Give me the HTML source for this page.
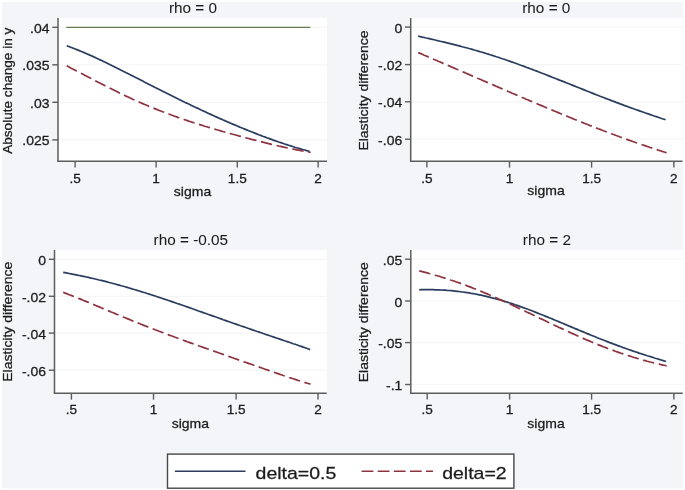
<!DOCTYPE html>
<html><head><meta charset="utf-8"><style>
html,body{margin:0;padding:0;background:#fff;}
#c{position:relative;will-change:transform;width:685px;height:490px;overflow:hidden;background:#fff;}
svg{position:absolute;left:0;top:0;}
text{font-family:"Liberation Sans",sans-serif;fill:#1c1c1c;stroke:#1c1c1c;stroke-width:0.3px;}
</style></head><body><div id="c">
<svg width="685" height="490" viewBox="0 0 685 490">
<rect x="2" y="2" width="681" height="486.3" fill="#f4f5f9"/>

<rect x="58" y="18" width="269.0" height="143.0" fill="#fff"/>
<line x1="58" x2="327" y1="27.3" y2="27.3" stroke="#f5f5f6" stroke-width="1.2"/>
<line x1="58" x2="327" y1="64.8" y2="64.8" stroke="#f5f5f6" stroke-width="1.2"/>
<line x1="58" x2="327" y1="102.3" y2="102.3" stroke="#f5f5f6" stroke-width="1.2"/>
<line x1="58" x2="327" y1="139.9" y2="139.9" stroke="#f5f5f6" stroke-width="1.2"/>
<line x1="66.3" x2="310.4" y1="27.4" y2="27.4" stroke="#677c50" stroke-width="1.4"/>
<polyline points="66.7,45.8 68.7,46.5 70.7,47.2 72.7,48.0 74.7,48.8 76.7,49.6 78.7,50.4 80.7,51.2 82.7,52.0 84.7,52.9 86.7,53.7 88.7,54.6 90.7,55.5 92.7,56.4 94.7,57.3 96.7,58.3 98.7,59.2 100.7,60.1 102.7,61.1 104.7,62.0 106.7,63.0 108.7,64.0 110.7,65.0 112.7,66.0 114.7,66.9 116.7,67.9 118.7,68.9 120.7,70.0 122.7,71.0 124.7,72.0 126.7,73.0 128.7,74.0 130.7,75.0 132.7,76.0 134.7,77.1 136.7,78.1 138.7,79.1 140.7,80.1 142.7,81.1 144.7,82.2 146.7,83.2 148.7,84.2 150.7,85.2 152.7,86.2 154.7,87.3 156.7,88.3 158.7,89.3 160.7,90.3 162.7,91.3 164.7,92.3 166.7,93.3 168.7,94.3 170.7,95.3 172.7,96.3 174.7,97.3 176.7,98.3 178.7,99.2 180.7,100.2 182.7,101.2 184.7,102.2 186.7,103.1 188.7,104.1 190.7,105.1 192.7,106.0 194.7,107.0 196.7,107.9 198.7,108.8 200.7,109.8 202.7,110.7 204.7,111.6 206.7,112.6 208.7,113.5 210.7,114.4 212.7,115.3 214.7,116.2 216.7,117.1 218.7,118.0 220.7,118.9 222.7,119.8 224.7,120.6 226.7,121.5 228.7,122.4 230.7,123.2 232.7,124.1 234.7,124.9 236.7,125.8 238.7,126.6 240.7,127.5 242.7,128.3 244.7,129.1 246.7,129.9 248.7,130.7 250.7,131.5 252.7,132.3 254.7,133.1 256.7,133.9 258.7,134.7 260.7,135.4 262.7,136.2 264.7,136.9 266.7,137.7 268.7,138.4 270.7,139.1 272.7,139.9 274.7,140.6 276.7,141.3 278.7,142.0 280.7,142.6 282.7,143.3 284.7,144.0 286.7,144.6 288.7,145.3 290.7,145.9 292.7,146.5 294.7,147.2 296.7,147.8 298.7,148.3 300.7,148.9 302.7,149.5 304.7,150.0 306.7,150.6 308.7,151.1 309.6,151.3" fill="none" stroke="#2a3d5e" stroke-width="1.7" stroke-linejoin="round"/>
<polyline points="66.7,65.8 68.7,66.8 70.7,67.9 72.7,68.9 74.7,69.9 76.7,71.0 78.7,72.0 80.7,73.1 82.7,74.1 84.7,75.2 86.7,76.2 88.7,77.3 90.7,78.3 92.7,79.4 94.7,80.4 96.7,81.4 98.7,82.5 100.7,83.5 102.7,84.5 104.7,85.6 106.7,86.6 108.7,87.6 110.7,88.6 112.7,89.6 114.7,90.6 116.7,91.6 118.7,92.6 120.7,93.5 122.7,94.5 124.7,95.4 126.7,96.4 128.7,97.3 130.7,98.2 132.7,99.2 134.7,100.1 136.7,101.0 138.7,101.9 140.7,102.7 142.7,103.6 144.7,104.5 146.7,105.3 148.7,106.2 150.7,107.0 152.7,107.8 154.7,108.6 156.7,109.4 158.7,110.2 160.7,111.0 162.7,111.8 164.7,112.5 166.7,113.3 168.7,114.0 170.7,114.8 172.7,115.5 174.7,116.2 176.7,116.9 178.7,117.7 180.7,118.4 182.7,119.0 184.7,119.7 186.7,120.4 188.7,121.1 190.7,121.7 192.7,122.4 194.7,123.0 196.7,123.7 198.7,124.3 200.7,124.9 202.7,125.5 204.7,126.2 206.7,126.8 208.7,127.4 210.7,128.0 212.7,128.6 214.7,129.1 216.7,129.7 218.7,130.3 220.7,130.9 222.7,131.5 224.7,132.0 226.7,132.6 228.7,133.1 230.7,133.7 232.7,134.3 234.7,134.8 236.7,135.3 238.7,135.9 240.7,136.4 242.7,137.0 244.7,137.5 246.7,138.0 248.7,138.5 250.7,139.1 252.7,139.6 254.7,140.1 256.7,140.6 258.7,141.1 260.7,141.6 262.7,142.1 264.7,142.6 266.7,143.1 268.7,143.6 270.7,144.1 272.7,144.6 274.7,145.0 276.7,145.5 278.7,146.0 280.7,146.4 282.7,146.9 284.7,147.3 286.7,147.8 288.7,148.2 290.7,148.6 292.7,149.0 294.7,149.4 296.7,149.8 298.7,150.2 300.7,150.6 302.7,151.0 304.7,151.3 306.7,151.6 308.7,152.0 310.6,152.3" fill="none" stroke="#8e3340" stroke-width="1.7" stroke-dasharray="11.5 4.6" stroke-linejoin="round"/>
<line x1="58" x2="58" y1="18" y2="161.7" stroke="#5c5c5c" stroke-width="1.5"/>
<line x1="57.3" x2="327" y1="161.3" y2="161.3" stroke="#5c5c5c" stroke-width="1.5"/>
<line x1="52.3" x2="58" y1="27.3" y2="27.3" stroke="#5c5c5c" stroke-width="1.4"/>
<text transform="translate(49.50,32.80) scale(1,0.95)" font-size="14" text-anchor="end">.04</text>
<line x1="52.3" x2="58" y1="64.8" y2="64.8" stroke="#5c5c5c" stroke-width="1.4"/>
<text transform="translate(49.50,70.30) scale(1,0.95)" font-size="14" text-anchor="end">.035</text>
<line x1="52.3" x2="58" y1="102.3" y2="102.3" stroke="#5c5c5c" stroke-width="1.4"/>
<text transform="translate(49.50,107.80) scale(1,0.95)" font-size="14" text-anchor="end">.03</text>
<line x1="52.3" x2="58" y1="139.9" y2="139.9" stroke="#5c5c5c" stroke-width="1.4"/>
<text transform="translate(49.50,145.40) scale(1,0.95)" font-size="14" text-anchor="end">.025</text>
<line x1="75.1" x2="75.1" y1="161" y2="167.6" stroke="#5c5c5c" stroke-width="1.4"/>
<text transform="translate(75.10,182.50) scale(1,0.93)" font-size="13.6" text-anchor="middle">.5</text>
<line x1="156.1" x2="156.1" y1="161" y2="167.6" stroke="#5c5c5c" stroke-width="1.4"/>
<text transform="translate(156.10,182.50) scale(1,0.93)" font-size="13.6" text-anchor="middle">1</text>
<line x1="237.3" x2="237.3" y1="161" y2="167.6" stroke="#5c5c5c" stroke-width="1.4"/>
<text transform="translate(237.30,182.50) scale(1,0.93)" font-size="13.6" text-anchor="middle">1.5</text>
<line x1="318.1" x2="318.1" y1="161" y2="167.6" stroke="#5c5c5c" stroke-width="1.4"/>
<text transform="translate(318.10,182.50) scale(1,0.93)" font-size="13.6" text-anchor="middle">2</text>
<text transform="translate(192.50,195.50) scale(1,0.88)" font-size="14" text-anchor="middle">sigma</text>
<text transform="translate(193.00,13.30)" font-size="15.3" text-anchor="middle" style="stroke-width:0.05px">rho = 0</text>
<text transform="translate(12.20,153.80) rotate(-90) scale(1,0.9)" font-size="13.6" text-anchor="start">Absolute change in y</text>
<rect x="410.7" y="18" width="271.8" height="143.0" fill="#fff"/>
<line x1="410.7" x2="682.5" y1="27.1" y2="27.1" stroke="#f5f5f6" stroke-width="1.2"/>
<line x1="410.7" x2="682.5" y1="64.6" y2="64.6" stroke="#f5f5f6" stroke-width="1.2"/>
<line x1="410.7" x2="682.5" y1="101.8" y2="101.8" stroke="#f5f5f6" stroke-width="1.2"/>
<line x1="410.7" x2="682.5" y1="139.2" y2="139.2" stroke="#f5f5f6" stroke-width="1.2"/>
<polyline points="418.2,36.2 420.2,36.6 422.2,37.1 424.2,37.5 426.2,38.0 428.2,38.4 430.2,38.9 432.2,39.3 434.2,39.8 436.2,40.3 438.2,40.7 440.2,41.2 442.2,41.7 444.2,42.1 446.2,42.6 448.2,43.1 450.2,43.6 452.2,44.1 454.2,44.6 456.2,45.1 458.2,45.6 460.2,46.1 462.2,46.7 464.2,47.2 466.2,47.7 468.2,48.3 470.2,48.8 472.2,49.4 474.2,50.0 476.2,50.5 478.2,51.1 480.2,51.7 482.2,52.3 484.2,52.9 486.2,53.5 488.2,54.1 490.2,54.8 492.2,55.4 494.2,56.0 496.2,56.7 498.2,57.3 500.2,58.0 502.2,58.7 504.2,59.3 506.2,60.0 508.2,60.7 510.2,61.4 512.2,62.1 514.2,62.8 516.2,63.5 518.2,64.2 520.2,65.0 522.2,65.7 524.2,66.4 526.2,67.2 528.2,67.9 530.2,68.7 532.2,69.4 534.2,70.2 536.2,70.9 538.2,71.7 540.2,72.5 542.2,73.3 544.2,74.0 546.2,74.8 548.2,75.6 550.2,76.4 552.2,77.2 554.2,78.0 556.2,78.8 558.2,79.6 560.2,80.4 562.2,81.1 564.2,81.9 566.2,82.7 568.2,83.5 570.2,84.3 572.2,85.1 574.2,85.9 576.2,86.7 578.2,87.5 580.2,88.3 582.2,89.1 584.2,89.9 586.2,90.7 588.2,91.5 590.2,92.3 592.2,93.1 594.2,93.9 596.2,94.7 598.2,95.5 600.2,96.3 602.2,97.0 604.2,97.8 606.2,98.6 608.2,99.3 610.2,100.1 612.2,100.9 614.2,101.6 616.2,102.4 618.2,103.1 620.2,103.9 622.2,104.6 624.2,105.4 626.2,106.1 628.2,106.8 630.2,107.6 632.2,108.3 634.2,109.0 636.2,109.7 638.2,110.4 640.2,111.1 642.2,111.8 644.2,112.5 646.2,113.2 648.2,113.9 650.2,114.6 652.2,115.3 654.2,116.0 656.2,116.6 658.2,117.3 660.2,118.0 662.2,118.7 664.2,119.3 665.6,119.8" fill="none" stroke="#2a3d5e" stroke-width="1.7" stroke-linejoin="round"/>
<polyline points="418.2,52.6 420.2,53.4 422.2,54.3 424.2,55.2 426.2,56.0 428.2,56.9 430.2,57.7 432.2,58.6 434.2,59.5 436.2,60.3 438.2,61.2 440.2,62.0 442.2,62.9 444.2,63.8 446.2,64.6 448.2,65.5 450.2,66.4 452.2,67.2 454.2,68.1 456.2,69.0 458.2,69.8 460.2,70.7 462.2,71.5 464.2,72.4 466.2,73.3 468.2,74.1 470.2,75.0 472.2,75.9 474.2,76.7 476.2,77.6 478.2,78.5 480.2,79.3 482.2,80.2 484.2,81.1 486.2,81.9 488.2,82.8 490.2,83.7 492.2,84.5 494.2,85.4 496.2,86.3 498.2,87.1 500.2,88.0 502.2,88.9 504.2,89.7 506.2,90.6 508.2,91.5 510.2,92.3 512.2,93.2 514.2,94.0 516.2,94.9 518.2,95.7 520.2,96.6 522.2,97.5 524.2,98.3 526.2,99.2 528.2,100.0 530.2,100.9 532.2,101.7 534.2,102.6 536.2,103.4 538.2,104.3 540.2,105.1 542.2,105.9 544.2,106.8 546.2,107.6 548.2,108.5 550.2,109.3 552.2,110.1 554.2,111.0 556.2,111.8 558.2,112.6 560.2,113.5 562.2,114.3 564.2,115.1 566.2,115.9 568.2,116.7 570.2,117.5 572.2,118.4 574.2,119.2 576.2,120.0 578.2,120.8 580.2,121.6 582.2,122.4 584.2,123.2 586.2,124.0 588.2,124.8 590.2,125.6 592.2,126.3 594.2,127.1 596.2,127.9 598.2,128.7 600.2,129.4 602.2,130.2 604.2,131.0 606.2,131.7 608.2,132.5 610.2,133.3 612.2,134.0 614.2,134.7 616.2,135.5 618.2,136.2 620.2,137.0 622.2,137.7 624.2,138.4 626.2,139.1 628.2,139.9 630.2,140.6 632.2,141.3 634.2,142.0 636.2,142.7 638.2,143.4 640.2,144.1 642.2,144.8 644.2,145.4 646.2,146.1 648.2,146.8 650.2,147.5 652.2,148.1 654.2,148.8 656.2,149.4 658.2,150.1 660.2,150.7 662.2,151.4 664.2,152.0 666.2,152.6 666.6,152.7" fill="none" stroke="#8e3340" stroke-width="1.7" stroke-dasharray="11.5 4.6" stroke-linejoin="round"/>
<line x1="410.7" x2="410.7" y1="18" y2="161.7" stroke="#5c5c5c" stroke-width="1.5"/>
<line x1="410.0" x2="682.5" y1="161.3" y2="161.3" stroke="#5c5c5c" stroke-width="1.5"/>
<line x1="405.0" x2="410.7" y1="27.1" y2="27.1" stroke="#5c5c5c" stroke-width="1.4"/>
<text transform="translate(402.20,32.60) scale(1,0.95)" font-size="14" text-anchor="end">0</text>
<line x1="405.0" x2="410.7" y1="64.6" y2="64.6" stroke="#5c5c5c" stroke-width="1.4"/>
<text transform="translate(402.20,70.10) scale(1,0.95)" font-size="14" text-anchor="end">-.02</text>
<line x1="405.0" x2="410.7" y1="101.8" y2="101.8" stroke="#5c5c5c" stroke-width="1.4"/>
<text transform="translate(402.20,107.30) scale(1,0.95)" font-size="14" text-anchor="end">-.04</text>
<line x1="405.0" x2="410.7" y1="139.2" y2="139.2" stroke="#5c5c5c" stroke-width="1.4"/>
<text transform="translate(402.20,144.70) scale(1,0.95)" font-size="14" text-anchor="end">-.06</text>
<line x1="426.9" x2="426.9" y1="161" y2="167.6" stroke="#5c5c5c" stroke-width="1.4"/>
<text transform="translate(426.90,182.50) scale(1,0.93)" font-size="13.6" text-anchor="middle">.5</text>
<line x1="509.5" x2="509.5" y1="161" y2="167.6" stroke="#5c5c5c" stroke-width="1.4"/>
<text transform="translate(509.50,182.50) scale(1,0.93)" font-size="13.6" text-anchor="middle">1</text>
<line x1="591.6" x2="591.6" y1="161" y2="167.6" stroke="#5c5c5c" stroke-width="1.4"/>
<text transform="translate(591.60,182.50) scale(1,0.93)" font-size="13.6" text-anchor="middle">1.5</text>
<line x1="673.9" x2="673.9" y1="161" y2="167.6" stroke="#5c5c5c" stroke-width="1.4"/>
<text transform="translate(673.90,182.50) scale(1,0.93)" font-size="13.6" text-anchor="middle">2</text>
<text transform="translate(546.00,195.40) scale(1,0.88)" font-size="14" text-anchor="middle">sigma</text>
<text transform="translate(546.30,13.30)" font-size="15.3" text-anchor="middle" style="stroke-width:0.05px">rho = 0</text>
<text transform="translate(368.40,150.60) rotate(-90) scale(1,0.9)" font-size="14" text-anchor="start">Elasticity difference</text>
<rect x="54.5" y="250" width="272.2" height="143.0" fill="#fff"/>
<line x1="54.5" x2="326.7" y1="259.3" y2="259.3" stroke="#f5f5f6" stroke-width="1.2"/>
<line x1="54.5" x2="326.7" y1="296.3" y2="296.3" stroke="#f5f5f6" stroke-width="1.2"/>
<line x1="54.5" x2="326.7" y1="333.1" y2="333.1" stroke="#f5f5f6" stroke-width="1.2"/>
<line x1="54.5" x2="326.7" y1="370.2" y2="370.2" stroke="#f5f5f6" stroke-width="1.2"/>
<polyline points="63.2,272.4 65.2,272.7 67.2,273.1 69.2,273.5 71.2,273.9 73.2,274.3 75.2,274.7 77.2,275.1 79.2,275.5 81.2,275.9 83.2,276.3 85.2,276.7 87.2,277.2 89.2,277.6 91.2,278.1 93.2,278.5 95.2,279.0 97.2,279.5 99.2,280.0 101.2,280.4 103.2,280.9 105.2,281.4 107.2,281.9 109.2,282.5 111.2,283.0 113.2,283.5 115.2,284.0 117.2,284.6 119.2,285.1 121.2,285.7 123.2,286.2 125.2,286.8 127.2,287.4 129.2,288.0 131.2,288.6 133.2,289.2 135.2,289.8 137.2,290.4 139.2,291.0 141.2,291.6 143.2,292.2 145.2,292.8 147.2,293.5 149.2,294.1 151.2,294.7 153.2,295.4 155.2,296.0 157.2,296.7 159.2,297.4 161.2,298.0 163.2,298.7 165.2,299.4 167.2,300.0 169.2,300.7 171.2,301.4 173.2,302.1 175.2,302.8 177.2,303.5 179.2,304.1 181.2,304.8 183.2,305.5 185.2,306.2 187.2,306.9 189.2,307.6 191.2,308.3 193.2,309.0 195.2,309.7 197.2,310.5 199.2,311.2 201.2,311.9 203.2,312.6 205.2,313.3 207.2,314.0 209.2,314.7 211.2,315.4 213.2,316.1 215.2,316.8 217.2,317.5 219.2,318.2 221.2,318.9 223.2,319.7 225.2,320.4 227.2,321.1 229.2,321.8 231.2,322.5 233.2,323.2 235.2,323.9 237.2,324.6 239.2,325.3 241.2,326.0 243.2,326.6 245.2,327.3 247.2,328.0 249.2,328.7 251.2,329.4 253.2,330.1 255.2,330.8 257.2,331.5 259.2,332.1 261.2,332.8 263.2,333.5 265.2,334.2 267.2,334.9 269.2,335.5 271.2,336.2 273.2,336.9 275.2,337.6 277.2,338.2 279.2,338.9 281.2,339.6 283.2,340.3 285.2,341.0 287.2,341.6 289.2,342.3 291.2,343.0 293.2,343.7 295.2,344.3 297.2,345.0 299.2,345.7 301.2,346.4 303.2,347.1 305.2,347.8 307.2,348.5 309.2,349.2 310.2,349.6" fill="none" stroke="#2a3d5e" stroke-width="1.7" stroke-linejoin="round"/>
<polyline points="63.2,292.4 65.2,293.1 67.2,293.9 69.2,294.7 71.2,295.4 73.2,296.2 75.2,297.0 77.2,297.8 79.2,298.6 81.2,299.4 83.2,300.3 85.2,301.1 87.2,301.9 89.2,302.7 91.2,303.6 93.2,304.4 95.2,305.2 97.2,306.1 99.2,306.9 101.2,307.8 103.2,308.6 105.2,309.4 107.2,310.3 109.2,311.1 111.2,312.0 113.2,312.8 115.2,313.6 117.2,314.5 119.2,315.3 121.2,316.1 123.2,317.0 125.2,317.8 127.2,318.6 129.2,319.4 131.2,320.2 133.2,321.1 135.2,321.9 137.2,322.7 139.2,323.5 141.2,324.3 143.2,325.1 145.2,325.9 147.2,326.6 149.2,327.4 151.2,328.2 153.2,329.0 155.2,329.8 157.2,330.5 159.2,331.3 161.2,332.0 163.2,332.8 165.2,333.6 167.2,334.3 169.2,335.1 171.2,335.8 173.2,336.5 175.2,337.3 177.2,338.0 179.2,338.8 181.2,339.5 183.2,340.2 185.2,340.9 187.2,341.7 189.2,342.4 191.2,343.1 193.2,343.8 195.2,344.5 197.2,345.2 199.2,346.0 201.2,346.7 203.2,347.4 205.2,348.1 207.2,348.8 209.2,349.5 211.2,350.2 213.2,350.9 215.2,351.6 217.2,352.3 219.2,353.0 221.2,353.7 223.2,354.4 225.2,355.2 227.2,355.9 229.2,356.6 231.2,357.3 233.2,358.0 235.2,358.7 237.2,359.4 239.2,360.1 241.2,360.8 243.2,361.5 245.2,362.2 247.2,362.9 249.2,363.6 251.2,364.3 253.2,365.0 255.2,365.7 257.2,366.4 259.2,367.1 261.2,367.8 263.2,368.5 265.2,369.2 267.2,369.9 269.2,370.6 271.2,371.3 273.2,372.0 275.2,372.7 277.2,373.4 279.2,374.1 281.2,374.8 283.2,375.5 285.2,376.1 287.2,376.8 289.2,377.5 291.2,378.1 293.2,378.8 295.2,379.4 297.2,380.1 299.2,380.7 301.2,381.3 303.2,382.0 305.2,382.6 307.2,383.2 309.2,383.8 310.6,384.2" fill="none" stroke="#8e3340" stroke-width="1.7" stroke-dasharray="11.5 4.6" stroke-linejoin="round"/>
<line x1="54.5" x2="54.5" y1="250" y2="393.7" stroke="#5c5c5c" stroke-width="1.5"/>
<line x1="53.8" x2="326.7" y1="393.3" y2="393.3" stroke="#5c5c5c" stroke-width="1.5"/>
<line x1="48.8" x2="54.5" y1="259.3" y2="259.3" stroke="#5c5c5c" stroke-width="1.4"/>
<text transform="translate(46.00,264.80) scale(1,0.95)" font-size="14" text-anchor="end">0</text>
<line x1="48.8" x2="54.5" y1="296.3" y2="296.3" stroke="#5c5c5c" stroke-width="1.4"/>
<text transform="translate(46.00,301.80) scale(1,0.95)" font-size="14" text-anchor="end">-.02</text>
<line x1="48.8" x2="54.5" y1="333.1" y2="333.1" stroke="#5c5c5c" stroke-width="1.4"/>
<text transform="translate(46.00,338.60) scale(1,0.95)" font-size="14" text-anchor="end">-.04</text>
<line x1="48.8" x2="54.5" y1="370.2" y2="370.2" stroke="#5c5c5c" stroke-width="1.4"/>
<text transform="translate(46.00,375.70) scale(1,0.95)" font-size="14" text-anchor="end">-.06</text>
<line x1="71.4" x2="71.4" y1="393" y2="399.6" stroke="#5c5c5c" stroke-width="1.4"/>
<text transform="translate(71.40,414.00) scale(1,0.93)" font-size="13.6" text-anchor="middle">.5</text>
<line x1="153.5" x2="153.5" y1="393" y2="399.6" stroke="#5c5c5c" stroke-width="1.4"/>
<text transform="translate(153.50,414.00) scale(1,0.93)" font-size="13.6" text-anchor="middle">1</text>
<line x1="236.1" x2="236.1" y1="393" y2="399.6" stroke="#5c5c5c" stroke-width="1.4"/>
<text transform="translate(236.10,414.00) scale(1,0.93)" font-size="13.6" text-anchor="middle">1.5</text>
<line x1="318" x2="318" y1="393" y2="399.6" stroke="#5c5c5c" stroke-width="1.4"/>
<text transform="translate(318.00,414.00) scale(1,0.93)" font-size="13.6" text-anchor="middle">2</text>
<text transform="translate(190.30,427.50) scale(1,0.88)" font-size="14" text-anchor="middle">sigma</text>
<text transform="translate(190.80,244.70)" font-size="15.3" text-anchor="middle" style="stroke-width:0.05px">rho = -0.05</text>
<text transform="translate(12.00,381.80) rotate(-90) scale(1,0.9)" font-size="14" text-anchor="start">Elasticity difference</text>
<rect x="410.8" y="250" width="271.9" height="143.0" fill="#fff"/>
<line x1="410.8" x2="682.7" y1="259.2" y2="259.2" stroke="#f5f5f6" stroke-width="1.2"/>
<line x1="410.8" x2="682.7" y1="301.0" y2="301.0" stroke="#f5f5f6" stroke-width="1.2"/>
<line x1="410.8" x2="682.7" y1="342.6" y2="342.6" stroke="#f5f5f6" stroke-width="1.2"/>
<line x1="410.8" x2="682.7" y1="384.5" y2="384.5" stroke="#f5f5f6" stroke-width="1.2"/>
<polyline points="419.2,289.8 421.2,289.7 423.2,289.7 425.2,289.7 427.2,289.7 429.2,289.7 431.2,289.7 433.2,289.7 435.2,289.8 437.2,289.9 439.2,289.9 441.2,290.0 443.2,290.1 445.2,290.2 447.2,290.4 449.2,290.5 451.2,290.7 453.2,290.9 455.2,291.1 457.2,291.3 459.2,291.5 461.2,291.8 463.2,292.0 465.2,292.3 467.2,292.6 469.2,292.9 471.2,293.3 473.2,293.6 475.2,294.0 477.2,294.4 479.2,294.8 481.2,295.2 483.2,295.6 485.2,296.1 487.2,296.6 489.2,297.1 491.2,297.6 493.2,298.1 495.2,298.6 497.2,299.2 499.2,299.7 501.2,300.3 503.2,300.9 505.2,301.5 507.2,302.1 509.2,302.8 511.2,303.4 513.2,304.1 515.2,304.8 517.2,305.4 519.2,306.1 521.2,306.9 523.2,307.6 525.2,308.3 527.2,309.0 529.2,309.8 531.2,310.5 533.2,311.3 535.2,312.1 537.2,312.9 539.2,313.7 541.2,314.5 543.2,315.3 545.2,316.1 547.2,316.9 549.2,317.7 551.2,318.5 553.2,319.4 555.2,320.2 557.2,321.0 559.2,321.9 561.2,322.7 563.2,323.5 565.2,324.4 567.2,325.2 569.2,326.1 571.2,326.9 573.2,327.7 575.2,328.6 577.2,329.4 579.2,330.3 581.2,331.1 583.2,331.9 585.2,332.8 587.2,333.6 589.2,334.4 591.2,335.2 593.2,336.0 595.2,336.8 597.2,337.7 599.2,338.5 601.2,339.2 603.2,340.0 605.2,340.8 607.2,341.6 609.2,342.4 611.2,343.1 613.2,343.9 615.2,344.6 617.2,345.4 619.2,346.1 621.2,346.8 623.2,347.6 625.2,348.3 627.2,349.0 629.2,349.7 631.2,350.4 633.2,351.1 635.2,351.7 637.2,352.4 639.2,353.1 641.2,353.7 643.2,354.4 645.2,355.0 647.2,355.7 649.2,356.3 651.2,356.9 653.2,357.5 655.2,358.2 657.2,358.8 659.2,359.4 661.2,360.0 663.2,360.6 665.2,361.2 666.0,361.4" fill="none" stroke="#2a3d5e" stroke-width="1.7" stroke-linejoin="round"/>
<polyline points="419.2,270.9 421.2,271.4 423.2,271.9 425.2,272.4 427.2,272.9 429.2,273.5 431.2,274.0 433.2,274.6 435.2,275.2 437.2,275.7 439.2,276.3 441.2,277.0 443.2,277.6 445.2,278.2 447.2,278.8 449.2,279.5 451.2,280.2 453.2,280.8 455.2,281.5 457.2,282.2 459.2,282.9 461.2,283.7 463.2,284.4 465.2,285.1 467.2,285.9 469.2,286.6 471.2,287.4 473.2,288.2 475.2,289.0 477.2,289.8 479.2,290.6 481.2,291.4 483.2,292.2 485.2,293.1 487.2,293.9 489.2,294.8 491.2,295.6 493.2,296.5 495.2,297.4 497.2,298.3 499.2,299.2 501.2,300.1 503.2,301.0 505.2,301.9 507.2,302.8 509.2,303.7 511.2,304.6 513.2,305.6 515.2,306.5 517.2,307.4 519.2,308.4 521.2,309.3 523.2,310.3 525.2,311.2 527.2,312.2 529.2,313.1 531.2,314.1 533.2,315.0 535.2,316.0 537.2,317.0 539.2,317.9 541.2,318.9 543.2,319.8 545.2,320.8 547.2,321.8 549.2,322.7 551.2,323.7 553.2,324.6 555.2,325.6 557.2,326.5 559.2,327.5 561.2,328.4 563.2,329.3 565.2,330.3 567.2,331.2 569.2,332.1 571.2,333.0 573.2,333.9 575.2,334.8 577.2,335.7 579.2,336.6 581.2,337.5 583.2,338.4 585.2,339.2 587.2,340.1 589.2,340.9 591.2,341.8 593.2,342.6 595.2,343.4 597.2,344.3 599.2,345.1 601.2,345.9 603.2,346.7 605.2,347.4 607.2,348.2 609.2,349.0 611.2,349.7 613.2,350.4 615.2,351.2 617.2,351.9 619.2,352.6 621.2,353.3 623.2,353.9 625.2,354.6 627.2,355.3 629.2,355.9 631.2,356.5 633.2,357.2 635.2,357.8 637.2,358.4 639.2,358.9 641.2,359.5 643.2,360.1 645.2,360.6 647.2,361.2 649.2,361.7 651.2,362.2 653.2,362.7 655.2,363.2 657.2,363.7 659.2,364.2 661.2,364.6 663.2,365.1 665.2,365.5 666.6,365.8" fill="none" stroke="#8e3340" stroke-width="1.7" stroke-dasharray="11.5 4.6" stroke-linejoin="round"/>
<line x1="410.8" x2="410.8" y1="250" y2="393.7" stroke="#5c5c5c" stroke-width="1.5"/>
<line x1="410.1" x2="682.7" y1="393.3" y2="393.3" stroke="#5c5c5c" stroke-width="1.5"/>
<line x1="405.1" x2="410.8" y1="259.2" y2="259.2" stroke="#5c5c5c" stroke-width="1.4"/>
<text transform="translate(402.30,264.70) scale(1,0.95)" font-size="14" text-anchor="end">.05</text>
<line x1="405.1" x2="410.8" y1="301.0" y2="301.0" stroke="#5c5c5c" stroke-width="1.4"/>
<text transform="translate(402.30,306.50) scale(1,0.95)" font-size="14" text-anchor="end">0</text>
<line x1="405.1" x2="410.8" y1="342.6" y2="342.6" stroke="#5c5c5c" stroke-width="1.4"/>
<text transform="translate(402.30,348.10) scale(1,0.95)" font-size="14" text-anchor="end">-.05</text>
<line x1="405.1" x2="410.8" y1="384.5" y2="384.5" stroke="#5c5c5c" stroke-width="1.4"/>
<text transform="translate(402.30,390.00) scale(1,0.95)" font-size="14" text-anchor="end">-.1</text>
<line x1="427.2" x2="427.2" y1="393" y2="399.6" stroke="#5c5c5c" stroke-width="1.4"/>
<text transform="translate(427.20,414.00) scale(1,0.93)" font-size="13.6" text-anchor="middle">.5</text>
<line x1="509.6" x2="509.6" y1="393" y2="399.6" stroke="#5c5c5c" stroke-width="1.4"/>
<text transform="translate(509.60,414.00) scale(1,0.93)" font-size="13.6" text-anchor="middle">1</text>
<line x1="591.6" x2="591.6" y1="393" y2="399.6" stroke="#5c5c5c" stroke-width="1.4"/>
<text transform="translate(591.60,414.00) scale(1,0.93)" font-size="13.6" text-anchor="middle">1.5</text>
<line x1="673.9" x2="673.9" y1="393" y2="399.6" stroke="#5c5c5c" stroke-width="1.4"/>
<text transform="translate(673.90,414.00) scale(1,0.93)" font-size="13.6" text-anchor="middle">2</text>
<text transform="translate(546.00,427.50) scale(1,0.88)" font-size="14" text-anchor="middle">sigma</text>
<text transform="translate(546.90,244.70)" font-size="15.3" text-anchor="middle" style="stroke-width:0.05px">rho = 2</text>
<text transform="translate(368.40,382.30) rotate(-90) scale(1,0.9)" font-size="14" text-anchor="start">Elasticity difference</text>
<rect x="167.5" y="454.1" width="346.4" height="34.1" fill="#fff" stroke="#474747" stroke-width="1.4"/>
<line x1="174.9" x2="245.5" y1="471.2" y2="471.2" stroke="#2a3d5e" stroke-width="1.5"/>
<text transform="translate(255.60,478.60) scale(1,0.89)" font-size="19.5" text-anchor="start">delta=0.5</text>
<line x1="361.6" x2="433" y1="471.2" y2="471.2" stroke="#8e3340" stroke-width="1.5" stroke-dasharray="11.8 4.3"/>
<text transform="translate(442.20,478.60) scale(1,0.89)" font-size="19.5" text-anchor="start">delta=2</text>
</svg></div></body></html>
